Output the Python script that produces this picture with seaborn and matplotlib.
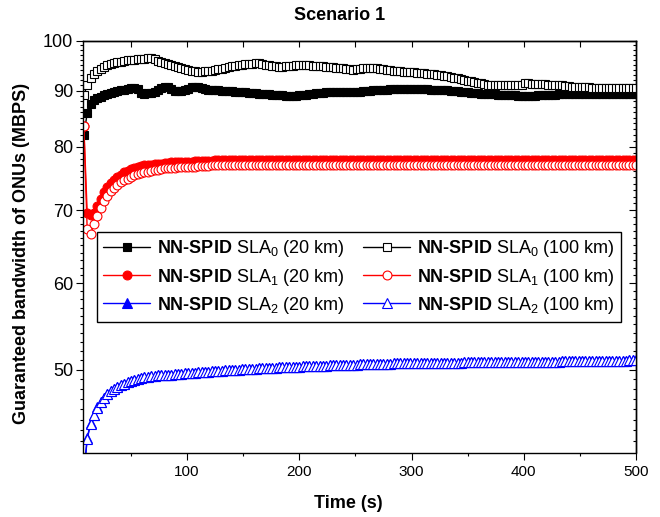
import numpy as np
import pandas as pd
import matplotlib
matplotlib.use("Agg")
import matplotlib.pyplot as plt
import seaborn as sns
from matplotlib.ticker import FixedLocator, FixedFormatter, NullFormatter

# ---------------- data ----------------
time_s = list(range(8, 501, 3))

sla0_20km = [
    82.0, 85.8, 87.5, 88.2, 88.6, 88.9, 89.2, 89.4, 89.6, 89.7,
    89.9, 90.1, 90.2, 90.4, 90.6, 90.5, 90.3, 89.5, 89.3, 89.5,
    89.6, 89.8, 90.1, 90.5, 90.8, 90.7, 90.4, 90.0, 89.9, 89.9,
    90.1, 90.4, 90.7, 90.8, 90.7, 90.5, 90.3, 90.1, 90.2, 90.2,
    90.1, 90.0, 90.0, 89.9, 89.9, 89.8, 89.8, 89.7, 89.7, 89.6,
    89.6, 89.5, 89.4, 89.4, 89.3, 89.3, 89.2, 89.2, 89.1, 89.1,
    89.0, 89.0, 89.0, 89.0, 89.1, 89.1, 89.2, 89.3, 89.4, 89.5,
    89.6, 89.6, 89.7, 89.8, 89.8, 89.8, 89.8, 89.8, 89.7, 89.7,
    89.7, 89.8, 89.8, 89.9, 90.0, 90.0, 90.1, 90.1, 90.2, 90.2,
    90.2, 90.3, 90.3, 90.4, 90.4, 90.4, 90.4, 90.4, 90.4, 90.3,
    90.3, 90.3, 90.3, 90.2, 90.2, 90.2, 90.2, 90.1, 90.1, 90.0,
    89.9, 89.9, 89.8, 89.7, 89.7, 89.6, 89.5, 89.5, 89.4, 89.4,
    89.3, 89.3, 89.3, 89.2, 89.2, 89.2, 89.1, 89.1, 89.1, 89.0,
    89.0, 89.0, 89.0, 89.0, 89.0, 89.1, 89.1, 89.1, 89.2, 89.2,
    89.2, 89.3, 89.3, 89.3, 89.4, 89.4, 89.4, 89.4, 89.4, 89.4,
    89.3, 89.3, 89.3, 89.3, 89.3, 89.3, 89.3, 89.3, 89.3, 89.3,
    89.3, 89.3, 89.3, 89.3, 89.3,
]

sla0_100km = [
    89.2, 91.0, 92.4, 93.3, 93.9, 94.3, 94.7, 95.0, 95.2, 95.4,
    95.6, 95.7, 95.9, 96.0, 96.1, 96.1, 96.2, 96.3, 96.3, 96.4,
    96.4, 96.2, 95.9, 95.6, 95.4, 95.2, 95.0, 94.8, 94.6, 94.4,
    94.2, 94.1, 93.9, 93.8, 93.7, 93.7, 93.8, 93.8, 93.9, 94.0,
    94.2, 94.3, 94.5, 94.6, 94.8, 94.9, 95.0, 95.1, 95.2, 95.3,
    95.3, 95.4, 95.4, 95.3, 95.1, 95.0, 94.9, 94.8, 94.7, 94.7,
    94.8, 94.9, 94.9, 95.0, 95.0, 95.0, 95.0, 95.0, 94.9, 94.9,
    94.8, 94.8, 94.7, 94.7, 94.6, 94.5, 94.4, 94.4, 94.3, 94.2,
    94.1, 94.2, 94.3, 94.4, 94.5, 94.5, 94.5, 94.4, 94.3, 94.2,
    94.1, 94.0, 93.9, 93.8, 93.8, 93.7, 93.7, 93.6, 93.6, 93.5,
    93.5, 93.4, 93.3, 93.3, 93.2, 93.1, 93.0, 92.9, 92.8, 92.7,
    92.5, 92.4, 92.2, 92.1, 91.9, 91.8, 91.6, 91.5, 91.4, 91.2,
    91.1, 91.1, 91.0, 91.0, 91.0, 91.0, 91.0, 91.0, 91.1, 91.1,
    91.1, 91.4, 91.4, 91.3, 91.3, 91.3, 91.2, 91.2, 91.1, 91.1,
    91.1, 91.0, 91.0, 90.9, 90.9, 90.8, 90.8, 90.8, 90.7, 90.7,
    90.7, 90.6, 90.6, 90.6, 90.6, 90.6, 90.6, 90.6, 90.6, 90.6,
    90.6, 90.6, 90.6, 90.6, 90.6,
]

sla1_20km = [
    83.6, 69.6, 69.2, 69.6, 70.6, 71.7, 72.7, 73.5, 74.1, 74.6,
    75.0, 75.4, 75.8, 76.0, 76.3, 76.5, 76.6, 76.8, 76.9, 77.0,
    77.0, 77.1, 77.2, 77.2, 77.3, 77.3, 77.4, 77.4, 77.4, 77.5,
    77.5, 77.5, 77.5, 77.6, 77.6, 77.6, 77.6, 77.6, 77.6, 77.7,
    77.7, 77.7, 77.7, 77.7, 77.7, 77.7, 77.7, 77.7, 77.7, 77.7,
    77.7, 77.7, 77.7, 77.7, 77.7, 77.7, 77.7, 77.7, 77.7, 77.7,
    77.7, 77.7, 77.7, 77.7, 77.7, 77.7, 77.7, 77.7, 77.7, 77.7,
    77.7, 77.7, 77.7, 77.7, 77.7, 77.7, 77.7, 77.7, 77.7, 77.7,
    77.7, 77.7, 77.7, 77.7, 77.7, 77.7, 77.7, 77.7, 77.7, 77.7,
    77.7, 77.7, 77.7, 77.7, 77.7, 77.7, 77.7, 77.7, 77.7, 77.7,
    77.7, 77.7, 77.7, 77.7, 77.7, 77.7, 77.7, 77.7, 77.7, 77.7,
    77.7, 77.7, 77.7, 77.7, 77.7, 77.7, 77.7, 77.7, 77.7, 77.7,
    77.7, 77.7, 77.7, 77.7, 77.7, 77.7, 77.7, 77.7, 77.7, 77.7,
    77.7, 77.7, 77.7, 77.7, 77.7, 77.7, 77.7, 77.7, 77.7, 77.7,
    77.7, 77.7, 77.7, 77.7, 77.7, 77.7, 77.7, 77.7, 77.7, 77.7,
    77.7, 77.7, 77.7, 77.7, 77.7, 77.7, 77.7, 77.7, 77.7, 77.7,
    77.7, 77.7, 77.7, 77.7, 77.7,
]

sla1_100km = [
    83.5, 67.2, 66.6, 67.9, 69.1, 70.3, 71.3, 72.1, 72.8, 73.3,
    73.8, 74.2, 74.5, 74.8, 75.1, 75.3, 75.5, 75.7, 75.8, 75.9,
    76.0, 76.1, 76.2, 76.3, 76.4, 76.4, 76.5, 76.5, 76.6, 76.6,
    76.6, 76.7, 76.7, 76.7, 76.8, 76.8, 76.8, 76.8, 76.9, 76.9,
    76.9, 76.9, 76.9, 76.9, 77.0, 77.0, 77.0, 77.0, 77.0, 77.0,
    77.0, 77.0, 77.0, 77.0, 77.0, 77.0, 77.0, 77.0, 77.0, 77.0,
    77.0, 77.0, 77.0, 77.0, 77.0, 77.0, 77.0, 77.0, 77.0, 77.0,
    77.0, 77.0, 77.0, 77.0, 77.0, 77.0, 77.0, 77.0, 77.0, 77.0,
    77.0, 77.0, 77.0, 77.0, 77.0, 77.0, 77.0, 77.0, 77.0, 77.0,
    77.0, 77.0, 77.0, 77.0, 77.0, 77.0, 77.0, 77.0, 77.0, 77.0,
    77.0, 77.0, 77.0, 77.0, 77.0, 77.0, 77.0, 77.0, 77.0, 77.0,
    77.0, 77.0, 77.0, 77.0, 77.0, 77.0, 77.0, 77.0, 77.0, 77.0,
    77.0, 77.0, 77.0, 77.0, 77.0, 77.0, 77.0, 77.0, 77.0, 77.0,
    77.0, 77.0, 77.0, 77.0, 77.0, 77.0, 77.0, 77.0, 77.0, 77.0,
    77.0, 77.0, 77.0, 77.0, 77.0, 77.0, 77.0, 77.0, 77.0, 77.0,
    77.0, 77.0, 77.0, 77.0, 77.0, 77.0, 77.0, 77.0, 77.0, 77.0,
    77.0, 77.0, 77.0, 77.0, 77.0,
]

sla2_20km = [
    40.2, 43.3, 44.7, 45.5, 46.2, 46.7, 47.1, 47.5, 47.8, 48.0,
    48.2, 48.4, 48.5, 48.7, 48.8, 48.9, 49.0, 49.1, 49.2, 49.2,
    49.3, 49.3, 49.4, 49.4, 49.5, 49.5, 49.5, 49.6, 49.6, 49.6,
    49.7, 49.7, 49.7, 49.7, 49.8, 49.8, 49.8, 49.8, 49.9, 49.9,
    49.9, 49.9, 50.0, 50.0, 50.0, 50.0, 50.0, 50.1, 50.1, 50.1,
    50.1, 50.1, 50.2, 50.2, 50.2, 50.2, 50.2, 50.2, 50.3, 50.3,
    50.3, 50.3, 50.3, 50.3, 50.3, 50.4, 50.4, 50.4, 50.4, 50.4,
    50.4, 50.4, 50.4, 50.5, 50.5, 50.5, 50.5, 50.5, 50.5, 50.5,
    50.5, 50.5, 50.6, 50.6, 50.6, 50.6, 50.6, 50.6, 50.6, 50.6,
    50.6, 50.6, 50.7, 50.7, 50.7, 50.7, 50.7, 50.7, 50.7, 50.7,
    50.7, 50.7, 50.7, 50.7, 50.7, 50.7, 50.7, 50.7, 50.7, 50.7,
    50.7, 50.7, 50.7, 50.8, 50.8, 50.8, 50.8, 50.8, 50.8, 50.8,
    50.8, 50.8, 50.8, 50.8, 50.8, 50.8, 50.8, 50.8, 50.8, 50.8,
    50.8, 50.8, 50.8, 50.8, 50.8, 50.8, 50.8, 50.8, 50.8, 50.8,
    50.8, 50.8, 50.9, 50.9, 50.9, 50.9, 50.9, 50.9, 50.9, 50.9,
    50.9, 50.9, 50.9, 50.9, 50.9, 50.9, 50.9, 50.9, 50.9, 50.9,
    50.9, 50.9, 51.0, 51.0, 51.0,
]

sla2_100km = [
    40.0, 43.2, 44.6, 45.5, 46.1, 46.7, 47.1, 47.5, 47.8, 48.0,
    48.2, 48.4, 48.5, 48.7, 48.8, 48.9, 49.0, 49.1, 49.2, 49.2,
    49.3, 49.3, 49.4, 49.4, 49.5, 49.5, 49.5, 49.6, 49.6, 49.6,
    49.7, 49.7, 49.7, 49.7, 49.8, 49.8, 49.8, 49.8, 49.9, 49.9,
    49.9, 49.9, 50.0, 50.0, 50.0, 50.0, 50.0, 50.1, 50.1, 50.1,
    50.1, 50.1, 50.2, 50.2, 50.2, 50.2, 50.2, 50.2, 50.3, 50.3,
    50.3, 50.3, 50.3, 50.3, 50.3, 50.4, 50.4, 50.4, 50.4, 50.4,
    50.4, 50.4, 50.4, 50.5, 50.5, 50.5, 50.5, 50.5, 50.5, 50.5,
    50.5, 50.5, 50.6, 50.6, 50.6, 50.6, 50.6, 50.6, 50.6, 50.6,
    50.6, 50.6, 50.7, 50.7, 50.7, 50.7, 50.7, 50.7, 50.7, 50.7,
    50.7, 50.7, 50.7, 50.7, 50.7, 50.7, 50.7, 50.7, 50.7, 50.7,
    50.7, 50.7, 50.7, 50.8, 50.8, 50.8, 50.8, 50.8, 50.8, 50.8,
    50.8, 50.8, 50.8, 50.8, 50.8, 50.8, 50.8, 50.8, 50.8, 50.8,
    50.8, 50.8, 50.8, 50.8, 50.8, 50.8, 50.8, 50.8, 50.8, 50.8,
    50.8, 50.8, 50.9, 50.9, 50.9, 50.9, 50.9, 50.9, 50.9, 50.9,
    50.9, 50.9, 50.9, 50.9, 50.9, 50.9, 50.9, 50.9, 50.9, 50.9,
    50.9, 50.9, 51.0, 51.0, 51.0,
]

y_ticks = [50, 60, 70, 80, 90, 100]
y_tick_labels = ["50", "60", "70", "80", "90", "100"]
x_ticks = [100, 200, 300, 400, 500]
x_tick_labels = ["100", "200", "300", "400", "500"]

title = "Scenario 1"
x_label = "Time (s)"
y_label = "Guaranteed bandwidth of ONUs (MBPS)"

NN = r"$\mathbf{NN‐SPID}$"
labels = [
    NN + r" SLA$_0$ (20 km)", NN + r" SLA$_1$ (20 km)", NN + r" SLA$_2$ (20 km)",
    NN + r" SLA$_0$ (100 km)", NN + r" SLA$_1$ (100 km)", NN + r" SLA$_2$ (100 km)",
]

# ---------------- style ----------------
sns.set_theme(style="white")
plt.rcParams['font.family'] = ['Liberation Sans', 'DejaVu Sans']
plt.rcParams['mathtext.fontset'] = 'custom'
plt.rcParams['mathtext.rm'] = 'Liberation Sans'
plt.rcParams['mathtext.bf'] = 'Liberation Sans:bold'
plt.rcParams['mathtext.it'] = 'Liberation Sans:italic'
plt.rcParams['mathtext.sf'] = 'Liberation Sans'
for k in ["text.color", "axes.labelcolor", "xtick.color", "ytick.color", "axes.edgecolor"]:
    plt.rcParams[k] = "black"

W, H = 660, 517
fig = plt.figure(figsize=(W / 100, H / 100), dpi=100)
ax = fig.add_axes([82.7 / W, 1 - 452.5 / H, (636 - 82.7) / W, (452.5 - 40.7) / H])

specs = [
    # data, color, marker, facecolor, size, label index
    (sla0_20km, "black", "s", "black", 5.2, 0),
    (sla1_20km, "#ff0000", "o", "#ff0000", 6.4, 1),
    (sla2_20km, "#0000ff", "^", "#0000ff", 6.8, 2),
    (sla0_100km, "black", "s", "white", 5.2, 3),
    (sla1_100km, "#ff0000", "o", "white", 6.4, 4),
    (sla2_100km, "#0000ff", "^", "white", 6.8, 5),
]
handles = []
for data, col, mk, fc, ms, li in specs:
    df = pd.DataFrame({"t": time_s, "v": data})
    sns.lineplot(data=df, x="t", y="v", ax=ax, color=col, marker=mk,
                 markerfacecolor=fc, markeredgecolor=col, markersize=ms,
                 markeredgewidth=0.8, linewidth=1.0, estimator=None,
                 sort=False, label=labels[li], legend=False)
    handles.append(ax.lines[-1])

ax.set_yscale("log")
ax.set_ylim(42.0, 100)
ax.set_xlim(7, 500)
ax.yaxis.set_major_locator(FixedLocator(y_ticks))
ax.yaxis.set_major_formatter(FixedFormatter(y_tick_labels))
minor_y = [v for v in range(43, 100) if v not in y_ticks]
ax.yaxis.set_minor_locator(FixedLocator(minor_y))
ax.yaxis.set_minor_formatter(NullFormatter())
ax.xaxis.set_major_locator(FixedLocator(x_ticks))
ax.xaxis.set_major_formatter(FixedFormatter(x_tick_labels))
ax.xaxis.set_minor_locator(FixedLocator([50, 150, 250, 350, 450]))

ax.set_xlabel("")
ax.set_ylabel("")
for s in ax.spines.values():
    s.set_color("black")
    s.set_linewidth(1.0)

ax.tick_params(axis="both", which="both", direction="out", color="black",
               labelcolor="black", width=0.8, bottom=True, left=True,
               top=False, right=False)
ax.tick_params(axis="both", which="major", length=5)
ax.tick_params(axis="both", which="minor", length=2.5)
ax.tick_params(axis="y", which="major", labelsize=13, pad=2)
ax.tick_params(axis="x", which="major", labelsize=11, pad=4)

# mirrored ticks pointing inward on top/right
sec_y = ax.secondary_yaxis("right")
sec_y.yaxis.set_major_locator(FixedLocator(y_ticks))
sec_y.yaxis.set_minor_locator(FixedLocator(minor_y))
sec_y.yaxis.set_major_formatter(NullFormatter())
sec_y.yaxis.set_minor_formatter(NullFormatter())
sec_y.tick_params(which="both", direction="in", color="black", width=0.8)
sec_y.tick_params(which="major", length=5)
sec_y.tick_params(which="minor", length=2.5)
sec_y.spines["right"].set_linewidth(1.0)

sec_x = ax.secondary_xaxis("top")
sec_x.xaxis.set_major_locator(FixedLocator([50, 100, 150, 200, 250, 300, 350, 400, 450, 500]))
sec_x.xaxis.set_major_formatter(NullFormatter())
sec_x.tick_params(which="both", direction="in", color="black", width=0.8, length=4)
sec_x.spines["top"].set_linewidth(1.0)

leg = ax.legend(handles, labels, ncol=2, loc="upper left",
                bbox_to_anchor=(97 / W, 1 - 232 / H), bbox_transform=fig.transFigure,
                fontsize=13, frameon=True, fancybox=False, borderaxespad=0,
                handlelength=2.6, handletextpad=0.4, columnspacing=1.0,
                labelspacing=0.4, borderpad=0.35)
leg.get_frame().set_edgecolor("black")
leg.get_frame().set_linewidth(1.0)
leg.get_frame().set_alpha(1)

fig.text(340 / W, 1 - 16 / H, title, ha="center", va="center",
         fontsize=13, fontweight="bold")
fig.text(348 / W, 1 - 504 / H, x_label, ha="center", va="center",
         fontsize=13, fontweight="bold")
fig.text(22 / W, 1 - 253 / H, y_label, ha="center", va="center",
         rotation=90, fontsize=13, fontweight="bold")

fig.savefig("out.png", dpi=100)
